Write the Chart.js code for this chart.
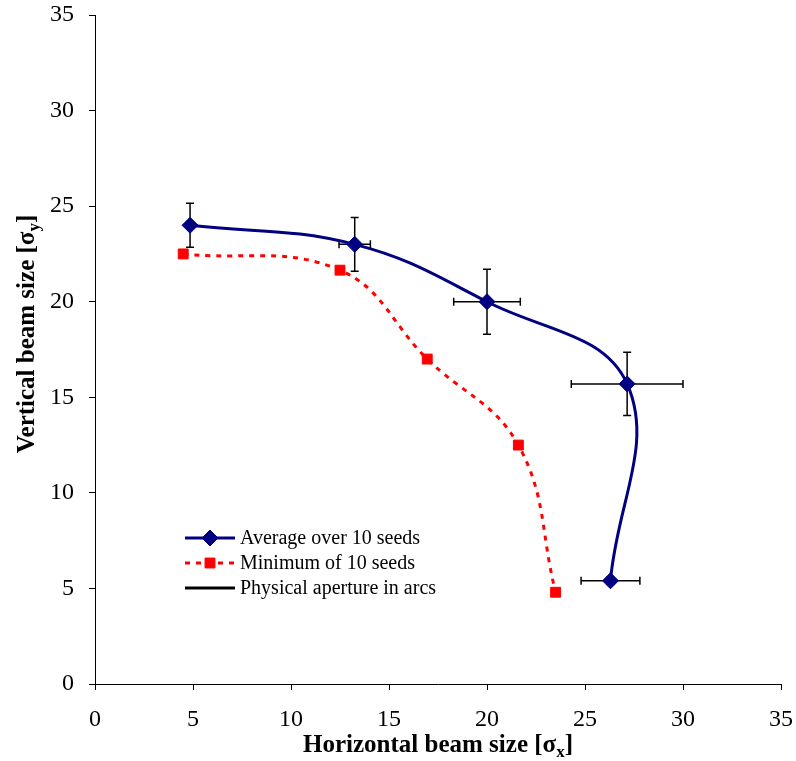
<!DOCTYPE html>
<html>
<head>
<meta charset="utf-8">
<script src="https://cdn.jsdelivr.net/npm/chart.js@4.4.1/dist/chart.umd.min.js"></script>
<style>
  html, body { margin: 0; padding: 0; background: #fff; }
  #wrap { width: 796px; height: 761px; position: relative; }
</style>
</head>
<body>
<div id="wrap"><canvas id="c"></canvas></div>
<script>
// values
const avgX = [4.85, 13.25, 20.0, 27.15, 26.3];
const avgY = [24.0, 23.0, 20.0, 15.7, 5.4];
const avgErrX = [0, 0.8, 1.7, 2.85, 1.5];
const avgErrY = [1.15, 1.4, 1.7, 1.65, 0.2];
const minX = [4.5, 12.5, 16.95, 21.6, 23.5];
const minY = [22.5, 21.65, 17.0, 12.5, 4.8];
const seriesNames = ['Average over 10 seeds', 'Minimum of 10 seeds', 'Physical aperture in arcs'];
const axisTicks = [0, 5, 10, 15, 20, 25, 30, 35];

const SERIF = '"Liberation Serif", "Times New Roman", serif';

function pts(xs, ys) {
  return xs.map((x, i) => ({ x: x, y: ys[i] }));
}

// x/y error bars for the average series, drawn under the markers
const errorBars = {
  id: 'errorBars',
  beforeDatasetsDraw(chart) {
    const { ctx, scales: { x, y } } = chart;
    const cap = 4;
    ctx.save();
    ctx.strokeStyle = '#000';
    ctx.lineWidth = 1.5;
    avgX.forEach((vx, i) => {
      const px = x.getPixelForValue(vx), py = y.getPixelForValue(avgY[i]);
      if (avgErrY[i] > 0) {
        const t = y.getPixelForValue(avgY[i] + avgErrY[i]);
        const b = y.getPixelForValue(avgY[i] - avgErrY[i]);
        ctx.beginPath();
        ctx.moveTo(px, t); ctx.lineTo(px, b);
        ctx.moveTo(px - cap, t); ctx.lineTo(px + cap, t);
        ctx.moveTo(px - cap, b); ctx.lineTo(px + cap, b);
        ctx.stroke();
      }
      if (avgErrX[i] > 0) {
        const l = x.getPixelForValue(vx - avgErrX[i]);
        const r = x.getPixelForValue(vx + avgErrX[i]);
        ctx.beginPath();
        ctx.moveTo(l, py); ctx.lineTo(r, py);
        ctx.moveTo(l, py - cap); ctx.lineTo(l, py + cap);
        ctx.moveTo(r, py - cap); ctx.lineTo(r, py + cap);
        ctx.stroke();
      }
    });
    ctx.restore();
  }
};

// axis titles with real subscripts, plus the legend box inside the plot
const decorations = {
  id: 'decorations',
  afterDraw(chart) {
    const ctx = chart.ctx;
    const ca = chart.chartArea;
    ctx.save();
    ctx.fillStyle = '#000';
    ctx.textBaseline = 'alphabetic';

    function subTitle(main, sym, sub, cx, cy) {
      const big = 'bold 25px ' + SERIF, small = 'bold 17px ' + SERIF;
      ctx.font = big;
      const w1 = ctx.measureText(main).width;
      const w2 = ctx.measureText(sym).width;
      const w4 = ctx.measureText(']').width;
      ctx.font = small;
      const w3 = ctx.measureText(sub).width;
      const x0 = cx - (w1 + w2 + w3 + w4) / 2;
      ctx.textAlign = 'left';
      ctx.font = big;
      ctx.fillText(main, x0, cy);
      ctx.fillText(sym, x0 + w1, cy);
      ctx.fillText(']', x0 + w1 + w2 + w3, cy);
      ctx.font = small;
      ctx.fillText(sub, x0 + w1 + w2, cy + 5);
    }

    subTitle('Horizontal beam size [', 'σ', 'x', (ca.left + ca.right) / 2, 752);

    ctx.save();
    ctx.translate(34, 334);
    ctx.rotate(-Math.PI / 2);
    subTitle('Vertical beam size [', 'σ', 'y', 0, 0);
    ctx.restore();

    // legend
    const rows = [538, 563, 588];
    chart.data.datasets.forEach((ds, i) => {
      const yy = rows[i];
      ctx.save();
      ctx.strokeStyle = ds.borderColor;
      ctx.lineWidth = ds.borderWidth;
      ctx.setLineDash(ds.borderDash || []);
      ctx.beginPath();
      ctx.moveTo(185, yy); ctx.lineTo(235, yy);
      ctx.stroke();
      ctx.setLineDash([]);
      if (ds.pointRadius > 0) {
        ctx.fillStyle = ds.pointBackgroundColor;
        ctx.strokeStyle = ds.pointBorderColor;
        ctx.lineWidth = 1;
        Chart.helpers.drawPoint(ctx, { pointStyle: ds.pointStyle, rotation: 0, radius: ds.pointRadius, borderWidth: 1 }, 210, yy);
      }
      ctx.restore();
      ctx.fillStyle = '#000';
      ctx.font = '20px ' + SERIF;
      ctx.textAlign = 'left';
      ctx.textBaseline = 'middle';
      ctx.fillText(seriesNames[i], 240, yy + 1);
    });
    ctx.restore();
  }
};

const axisCommon = {
  type: 'linear',
  min: 0,
  max: 35,
  border: { display: true, color: '#000', width: 1 },
  grid: { drawOnChartArea: false, drawTicks: true, tickLength: 6, color: '#000', lineWidth: 1 },
  afterBuildTicks(scale) { scale.ticks = axisTicks.map(v => ({ value: v })); },
  title: { display: false }
};

new Chart(document.getElementById('c'), {
  type: 'scatter',
  data: {
    datasets: [
      {
        label: seriesNames[0],
        data: pts(avgX, avgY),
        showLine: true,
        tension: 0.4,
        borderColor: '#000080',
        borderWidth: 3,
        pointStyle: 'rectRot',
        pointRadius: 8,
        pointBackgroundColor: '#000080',
        pointBorderColor: '#000080',
        pointBorderWidth: 1
      },
      {
        label: seriesNames[1],
        data: pts(minX, minY),
        showLine: true,
        tension: 0.4,
        borderColor: '#ff0000',
        borderWidth: 3,
        borderDash: [5, 6],
        pointStyle: 'rect',
        pointRadius: 7,
        pointBackgroundColor: '#ff0000',
        pointBorderColor: '#ff0000',
        pointBorderWidth: 1
      },
      {
        label: seriesNames[2],
        data: [],
        showLine: true,
        borderColor: '#000000',
        borderWidth: 3,
        pointRadius: 0
      }
    ]
  },
  options: {
    responsive: true,
    maintainAspectRatio: false,
    animation: false,
    clip: false,
    layout: { padding: { top: 15, right: 15, left: 0, bottom: 0 } },
    plugins: { legend: { display: false }, tooltip: { enabled: false } },
    scales: {
      x: {
        ...axisCommon,
        position: 'bottom',
        ticks: { stepSize: 5, padding: 15, color: '#000', font: { family: SERIF, size: 24 }, maxRotation: 0 },
        afterFit(scale) { scale.height = 77; scale.paddingLeft = 0; scale.paddingRight = 0; }
      },
      y: {
        ...axisCommon,
        position: 'left',
        ticks: { stepSize: 5, padding: 15, color: '#000', font: { family: SERIF, size: 24 } },
        afterFit(scale) { scale.width = 95; scale.paddingTop = 0; scale.paddingBottom = 0; }
      }
    }
  },
  plugins: [errorBars, decorations]
});
</script>
</body>
</html>
